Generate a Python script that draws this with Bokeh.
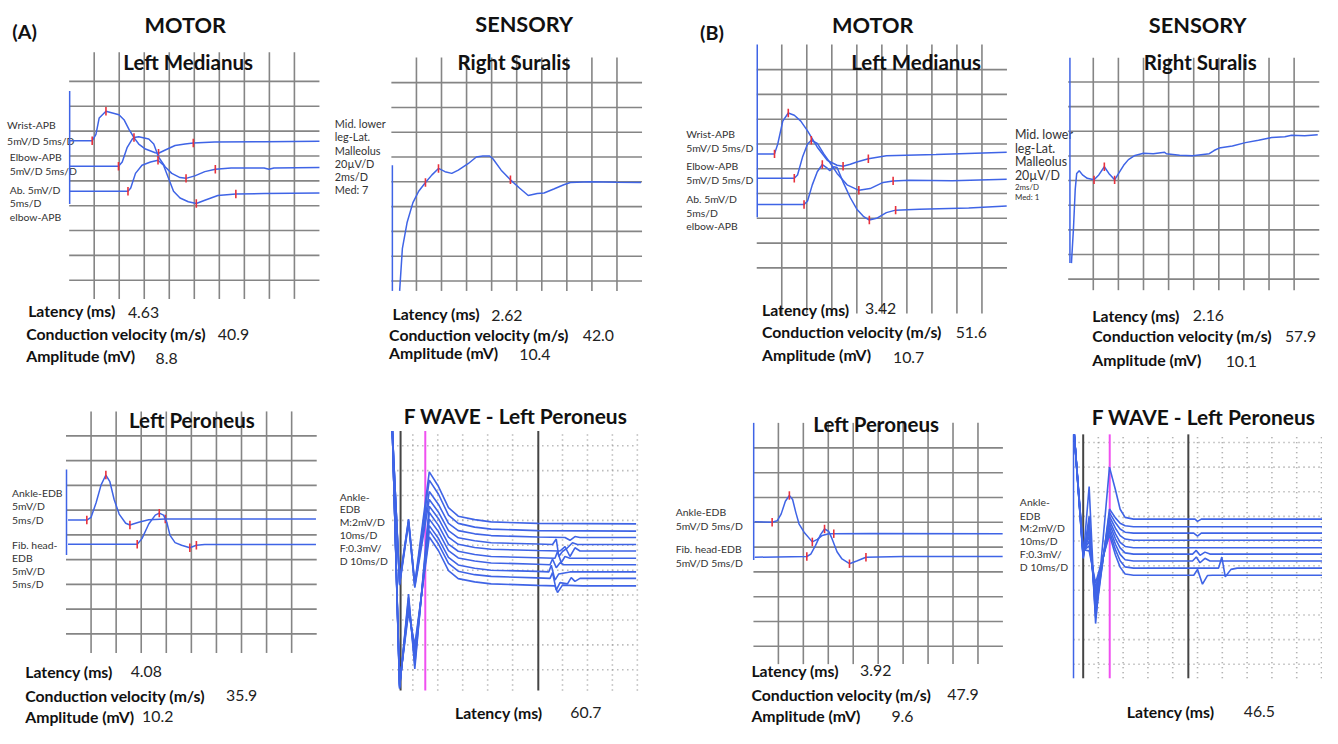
from bokeh.plotting import figure
from bokeh.models import Range1d
from bokeh.core.properties import value
from bokeh.embed import file_html
from bokeh.resources import INLINE

# ------------------------------------------------------------------
# DATA  (x in screen divisions of time, y in screen divisions of amplitude)
# ------------------------------------------------------------------
# (A) MOTOR - Left Medianus  (5 ms/D, 5 mV/D)
a_med_wrist_t = [0.02, 0.92, 1.07, 1.20, 1.47, 1.73, 1.99, 2.19, 2.39, 2.59, 2.78, 3.05, 3.44, 3.57, 3.84, 4.23, 4.63, 4.96, 5.81, 7.79, 10.0]
a_med_wrist_v = [6.61, 6.61, 6.87, 7.53, 7.80, 7.73, 7.66, 7.46, 7.07, 6.74, 6.48, 6.28, 6.13, 6.11, 6.24, 6.42, 6.48, 6.52, 6.56, 6.57, 6.59]
a_med_wrist_marks = [1, 4, 13, 17]
a_med_elbow_t = [0.02, 1.97, 2.12, 2.32, 2.52, 2.59, 2.78, 3.18, 3.38, 3.57, 3.84, 4.10, 4.43, 4.67, 5.02, 5.42, 5.84, 6.47, 7.79, 7.98, 8.18, 10.0]
a_med_elbow_v = [5.59, 5.59, 5.76, 6.35, 6.68, 6.74, 6.77, 6.68, 6.48, 5.96, 5.56, 5.30, 5.13, 5.10, 5.20, 5.37, 5.47, 5.52, 5.52, 5.47, 5.52, 5.54]
a_med_elbow_marks = [1, 5, 13, 16]
a_med_ab_t = [0.02, 2.35, 2.46, 2.65, 2.91, 3.25, 3.55, 3.77, 3.97, 4.17, 4.43, 4.76, 5.08, 5.42, 5.94, 6.66, 7.79, 10.0]
a_med_ab_v = [4.58, 4.58, 4.71, 5.30, 5.63, 5.76, 5.83, 5.63, 5.10, 4.58, 4.31, 4.16, 4.09, 4.22, 4.41, 4.47, 4.49, 4.51]
a_med_ab_marks = [1, 6, 12, 15]
a_med_stim = [4.07, 8.61]

# (A) SENSORY - Right Suralis (2 ms/D, 20 uV/D)
a_sur_t = [0.33, 0.44, 0.63, 0.86, 1.09, 1.36, 1.62, 1.88, 2.14, 2.41, 2.67, 3.06, 3.39, 3.65, 3.92, 4.05, 4.38, 4.75, 5.11, 5.46, 5.82, 6.09, 6.48, 6.88, 7.14, 7.93, 8.98, 9.96]
a_sur_v = [0.60, 2.32, 3.37, 4.16, 4.62, 4.97, 5.28, 5.54, 5.41, 5.34, 5.47, 5.73, 6.00, 6.04, 6.04, 5.93, 5.47, 5.08, 4.75, 4.45, 4.53, 4.55, 4.71, 4.88, 4.97, 5.00, 4.98, 4.97]
a_sur_marks = [5, 7, 17]
a_sur_stim = [0.60, 5.67]

# (A) MOTOR - Left Peroneus (5 ms/D, 5 mV/D)
a_per_ankle_t = [0.08, 0.83, 1.00, 1.20, 1.40, 1.59, 1.75, 1.92, 2.12, 2.38, 2.55, 2.90, 3.30, 3.96, 6.58, 9.97]
a_per_ankle_v = [5.60, 5.60, 5.71, 6.30, 7.02, 7.42, 7.15, 6.43, 5.84, 5.47, 5.40, 5.51, 5.61, 5.64, 5.64, 5.64]
a_per_ankle_marks = [1, 5, 10, 13]
a_per_fib_t = [0.08, 2.84, 3.03, 3.30, 3.56, 3.72, 3.89, 4.02, 4.15, 4.35, 4.61, 4.94, 5.20, 5.53, 9.97]
a_per_fib_v = [4.62, 4.62, 4.85, 5.44, 5.80, 5.88, 5.80, 5.51, 4.98, 4.69, 4.58, 4.48, 4.58, 4.61, 4.61]
a_per_fib_marks = [1, 5, 11, 12]
a_per_stim = [4.19, 7.64]

# (A) F WAVE - Left Peroneus (10 ms/D)
a_fw_t = [
    [0.18, 0.47, 0.83, 1.08, 1.66, 2.03, 2.43, 2.82, 3.48, 4.14, 5.99, 9.95],
    [0.18, 0.47, 0.83, 1.08, 1.66, 2.03, 2.43, 2.82, 3.48, 4.14, 5.99, 9.95],
    [0.18, 0.47, 0.83, 1.08, 1.66, 2.03, 2.43, 2.82, 3.48, 4.14, 5.99, 7.1, 7.3, 7.5, 7.7, 9.95],
    [0.18, 0.47, 0.83, 1.08, 1.66, 2.03, 2.43, 2.82, 3.48, 4.14, 5.99, 6.6, 6.75, 6.85, 7.0, 7.2, 7.4, 7.6, 9.95],
    [0.18, 0.47, 0.83, 1.08, 1.66, 2.03, 2.43, 2.82, 3.48, 4.14, 5.99, 6.9, 7.1, 7.3, 7.5, 7.7, 9.95],
    [0.18, 0.47, 0.83, 1.08, 1.66, 2.03, 2.43, 2.82, 3.48, 4.14, 5.99, 6.7, 6.8, 6.95, 7.1, 7.3, 9.95],
    [0.18, 0.47, 0.83, 1.08, 1.66, 2.03, 2.43, 2.82, 3.48, 4.14, 5.99, 6.5, 6.6, 6.75, 6.9, 7.05, 9.95],
    [0.18, 0.47, 0.83, 1.08, 1.66, 2.03, 2.43, 2.82, 3.48, 4.14, 5.99, 6.45, 6.55, 6.7, 6.85, 7.3, 9.95],
    [0.18, 0.47, 0.83, 1.08, 1.66, 2.03, 2.43, 2.82, 3.48, 4.14, 5.99, 6.5, 6.6, 6.75, 6.9, 7.2, 7.35, 7.5, 7.7, 9.95],
    [0.18, 0.47, 0.83, 1.08, 1.66, 2.03, 2.43, 2.82, 3.48, 4.14, 5.99, 6.7, 6.8, 7.0, 7.8, 9.95],
]
a_fw_v = [
    [10.59, 4.55, 7.05, 4.45, 8.95, 8.36, 7.51, 7.17, 7.03, 6.94, 6.88, 6.86],
    [10.59, 4.50, 7.00, 4.40, 8.62, 8.05, 7.21, 6.88, 6.73, 6.65, 6.59, 6.57],
    [10.59, 4.45, 6.95, 4.35, 8.16, 7.64, 6.88, 6.59, 6.46, 6.39, 6.33, 6.31, 6.20, 6.35, 6.31, 6.31],
    [10.59, 4.40, 6.90, 4.30, 7.84, 7.33, 6.59, 6.30, 6.18, 6.10, 6.05, 6.03, 6.25, 5.55, 5.75, 5.90, 6.10, 6.03, 6.03],
    [10.59, 0.24, 4.04, 1.03, 7.57, 7.07, 6.33, 6.04, 5.91, 5.84, 5.79, 5.77, 5.95, 5.55, 5.90, 5.77, 5.77],
    [10.59, 0.28, 3.90, 1.20, 7.32, 6.80, 6.05, 5.76, 5.63, 5.55, 5.50, 5.48, 5.75, 5.30, 5.55, 5.48, 5.48],
    [10.59, 0.32, 3.75, 1.40, 7.05, 6.54, 5.79, 5.49, 5.37, 5.29, 5.24, 5.22, 5.45, 5.10, 5.30, 5.22, 5.22],
    [10.59, 0.36, 3.60, 1.60, 6.79, 6.27, 5.51, 5.21, 5.08, 5.00, 4.95, 4.93, 5.20, 4.60, 4.85, 4.93, 4.93],
    [10.59, 0.40, 3.45, 1.80, 6.59, 6.05, 5.27, 4.96, 4.82, 4.75, 4.69, 4.67, 4.90, 4.20, 4.50, 4.45, 4.70, 4.55, 4.67, 4.67],
    [10.59, 0.44, 3.30, 2.00, 6.33, 5.78, 4.98, 4.66, 4.53, 4.45, 4.39, 4.37, 4.10, 4.40, 4.37, 4.37],
]
a_fw_cursor_black = [0.51, 6.03]
a_fw_cursor_pink = [1.50]

# (B) MOTOR - Left Medianus
b_med_wrist_t = [0.02, 0.71, 0.84, 1.04, 1.26, 1.50, 1.76, 2.03, 2.42, 2.82, 3.21, 3.45, 3.74, 4.00, 4.46, 5.18, 7.16, 9.99]
b_med_wrist_v = [5.60, 5.60, 6.00, 6.92, 7.25, 7.16, 6.92, 6.53, 5.87, 5.34, 5.14, 5.10, 5.18, 5.27, 5.40, 5.52, 5.58, 5.67]
b_med_wrist_marks = [1, 4, 11, 14]
b_med_elbow_t = [0.02, 1.50, 1.63, 1.83, 2.03, 2.18, 2.42, 2.68, 2.95, 3.21, 3.61, 4.08, 4.53, 5.05, 5.45, 6.10, 7.81, 9.99]
b_med_elbow_v = [4.62, 4.62, 4.75, 5.47, 6.00, 6.15, 6.02, 5.60, 5.21, 4.81, 4.35, 4.13, 4.20, 4.45, 4.51, 4.54, 4.52, 4.58]
b_med_elbow_marks = [1, 5, 11, 14]
b_med_ab_t = [0.02, 1.89, 2.03, 2.22, 2.42, 2.62, 2.79, 2.92, 3.08, 3.21, 3.47, 3.74, 4.00, 4.26, 4.50, 4.79, 5.18, 5.55, 6.50, 8.47, 9.99]
b_med_ab_v = [3.56, 3.56, 3.70, 4.35, 4.88, 5.17, 5.05, 4.92, 5.08, 5.05, 4.42, 3.83, 3.37, 3.08, 2.93, 3.00, 3.23, 3.33, 3.37, 3.42, 3.50]
b_med_ab_marks = [1, 5, 14, 17]
b_med_stim = [3.04, 10.01]

# (B) SENSORY - Right Suralis
b_sur_t = [0.13, 0.21, 0.28, 0.34, 0.44, 0.57, 0.76, 1.03, 1.22, 1.44, 1.62, 1.85, 2.01, 2.21, 2.40, 2.66, 3.00, 3.39, 3.84, 3.91, 4.44, 4.96, 5.62, 5.81, 6.01, 6.54, 7.06, 7.58, 8.11, 8.63, 8.90, 9.42, 9.94]
b_sur_v = [1.65, 3.04, 4.63, 5.29, 5.40, 5.23, 5.09, 5.03, 5.23, 5.56, 5.29, 5.03, 5.29, 5.62, 5.85, 6.02, 6.11, 6.09, 6.15, 6.09, 6.03, 6.01, 6.09, 6.22, 6.32, 6.40, 6.54, 6.64, 6.75, 6.78, 6.84, 6.82, 6.86]
b_sur_marks = [7, 9, 11]
b_sur_stim = [1.65, 9.99]

# (B) MOTOR - Left Peroneus
b_per_ankle_t = [0.05, 0.75, 0.95, 1.11, 1.28, 1.44, 1.57, 1.70, 1.83, 2.03, 2.36, 2.56, 2.76, 3.02, 3.22, 4.67, 9.99]
b_per_ankle_v = [6.02, 6.00, 6.06, 6.33, 6.85, 7.08, 6.92, 6.39, 5.93, 5.60, 5.21, 5.31, 5.47, 5.54, 5.54, 5.55, 5.54]
b_per_ankle_marks = [1, 5, 10, 14]
b_per_fib_t = [0.05, 2.14, 2.30, 2.49, 2.69, 2.85, 3.02, 3.15, 3.35, 3.55, 3.85, 4.14, 4.51, 5.99, 9.99]
b_per_fib_v = [4.59, 4.62, 4.72, 5.07, 5.50, 5.73, 5.63, 5.34, 4.81, 4.52, 4.33, 4.44, 4.59, 4.62, 4.62]
b_per_fib_marks = [1, 5, 10, 12]
b_per_stim = [4.48, 10.01]

# (B) F WAVE - Left Peroneus
b_fw_t = [
    [0.03, 0.39, 0.63, 0.89, 1.45, 1.69, 1.88, 2.08, 2.42, 4.9, 5.0, 5.15, 10.04],
    [0.03, 0.39, 0.63, 0.89, 1.45, 1.69, 1.88, 2.08, 2.42, 10.04],
    [0.03, 0.39, 0.63, 0.89, 1.45, 1.69, 1.88, 2.08, 2.42, 4.85, 5.0, 5.15, 10.04],
    [0.03, 0.39, 0.63, 0.89, 1.45, 1.69, 1.88, 2.08, 2.42, 10.04],
    [0.03, 0.39, 0.63, 0.89, 1.45, 1.69, 1.88, 2.08, 2.42, 10.04],
    [0.03, 0.39, 0.63, 0.89, 1.45, 1.69, 1.88, 2.08, 2.42, 4.8, 4.95, 5.1, 5.3, 5.5, 10.04],
    [0.03, 0.39, 0.63, 0.89, 1.45, 1.69, 1.88, 2.08, 2.42, 4.8, 4.95, 5.1, 5.3, 5.5, 10.04],
    [0.03, 0.39, 0.63, 0.89, 1.45, 1.69, 1.88, 2.08, 2.42, 5.85, 5.98, 6.12, 6.35, 6.6, 10.04],
    [0.03, 0.39, 0.63, 0.89, 1.45, 1.69, 1.88, 2.08, 2.42, 4.85, 5.0, 5.2, 5.4, 5.6, 10.04],
]
b_fw_v = [
    [10.33, 5.30, 8.21, 2.65, 9.00, 8.08, 7.29, 6.96, 6.89, 6.89, 6.80, 6.89, 6.89],
    [10.33, 5.30, 7.00, 2.90, 7.30, 6.94, 6.72, 6.62, 6.58, 6.58],
    [10.33, 5.35, 6.80, 3.10, 7.15, 6.74, 6.49, 6.36, 6.32, 6.32, 6.20, 6.32, 6.32],
    [10.33, 5.40, 6.60, 3.30, 7.00, 6.52, 6.22, 6.08, 6.03, 6.03],
    [10.33, 5.45, 6.40, 3.50, 6.85, 6.29, 5.95, 5.78, 5.73, 5.73],
    [10.33, 5.50, 6.20, 3.70, 6.70, 6.09, 5.72, 5.52, 5.47, 5.47, 5.62, 5.42, 5.55, 5.47, 5.47],
    [10.33, 5.55, 6.00, 3.90, 6.55, 5.87, 5.46, 5.24, 5.19, 5.19, 5.35, 5.12, 5.30, 5.19, 5.19],
    [10.33, 5.60, 5.80, 4.10, 6.40, 5.65, 5.20, 4.95, 4.90, 4.90, 5.35, 4.55, 4.85, 4.90, 4.90],
    [10.33, 5.65, 5.60, 4.30, 6.25, 5.43, 4.94, 4.66, 4.61, 4.61, 4.85, 4.25, 4.60, 4.61, 4.61],
]
b_fw_cursor_black = [0.39, 4.63]
b_fw_cursor_pink = [1.46]
b_fw_stim = [0.43, 10.33]

# Measurements
meas_labels = ["Latency (ms)", "Conduction velocity (m/s)", "Amplitude (mV)"]
a_med_meas = ["4.63", "40.9", "8.8"]
a_sur_meas = ["2.62", "42.0", "10.4"]
a_per_meas = ["4.08", "35.9", "10.2"]
a_fw_latency = "60.7"
b_med_meas = ["3.42", "51.6", "10.7"]
b_sur_meas = ["2.16", "57.9", "10.1"]
b_per_meas = ["3.92", "47.9", "9.6"]
b_fw_latency = "46.5"

med_labels = ["Wrist-APB", "5mV/D 5ms/D", "Elbow-APB", "5mV/D 5ms/D", "Ab. 5mV/D", "5ms/D", "elbow-APB"]
a_sur_labels = ["Mid. lower", "leg-Lat.", "Malleolus", "20\u00b5V/D", "2ms/D", "Med: 7"]
b_sur_labels = ["Mid. lower", "leg-Lat.", "Malleolus", "20\u00b5V/D"]
b_sur_small = ["2ms/D", "Med: 1"]
a_per_labels = ["Ankle-EDB", "5mV/D", "5ms/D", "Fib. head-", "EDB", "5mV/D", "5ms/D"]
b_per_labels = ["Ankle-EDB", "5mV/D 5ms/D", "Fib. head-EDB", "5mV/D 5ms/D"]
fw_labels = ["Ankle-", "EDB", "M:2mV/D", "10ms/D", "F:0.3mV/", "D 10ms/D"]

# ------------------------------------------------------------------
# LAYOUT (reference pixel frame 1338 x 744)
# ------------------------------------------------------------------
W, H = 1338, 744
PW, PH = 1322, 728
S = PW / W
BLUE = "#3f64e6"
RED = "#e8313c"
GRID = "#858585"
DOT = "#9a9a9a"
FONT = "Lato"

# panel: (left px, px per division, bottom px (y=0), px per division)
PANELS = {
    "a_med": (69.5, 25.33, 311.3, 25.4),
    "a_sur": (395.6, 25.37, 312.0, 25.34),
    "a_per": (66.3, 25.375, 672.6, 25.29),
    "a_fw": (392.05, 25.25, 709.4, 25.44),
    "b_med": (765.4, 25.325, 298.6, 25.33),
    "b_sur": (1080.6, 25.41, 309.9, 25.175),
    "b_per": (762.05, 25.25, 685.3, 25.34),
    "b_fw": (1086.0, 25.1, 703.5, 25.18),
}

p = figure(width=PW, height=PH, x_range=Range1d(0, W), y_range=Range1d(H, 0),
           output_backend="svg", toolbar_location=None, min_border=0,
           x_axis_type=None, y_axis_type=None)
p.xgrid.visible = False
p.ygrid.visible = False
p.outline_line_color = None
p.background_fill_color = "white"
p.border_fill_color = "white"

ex, ey = {}, {}
for name, (x0, dx, y0, dy) in PANELS.items():
    ex[name] = Range1d(-x0 / dx, (W - x0) / dx)
    ey[name] = Range1d((y0 - H) / dy, y0 / dy)
p.extra_x_ranges = ex
p.extra_y_ranges = ey


def solid_grid(name, vlo, vhi):
    xs = [[k, k] for k in range(1, 10)]
    ys = [[vlo, vhi] for _ in range(1, 10)]
    p.multi_line(xs, ys, line_color=GRID, line_width=1.6, x_range_name=name, y_range_name=name)
    hx = [[0, 10] for _ in range(1, 10)]
    hy = [[k, k] for k in range(1, 10)]
    p.multi_line(hx, hy, line_color=GRID, line_width=1.6, x_range_name=name, y_range_name=name)


def dotted_grid(name, xlo, xhi, vlo, vhi, skip=()):
    cols = [k for k in range(1, 11) if k not in skip]
    p.multi_line([[k, k] for k in cols], [[vlo, vhi] for _ in cols], line_color=DOT,
                 line_width=1.6, line_dash="1 4", x_range_name=name, y_range_name=name)
    p.multi_line([[xlo, xhi] for _ in range(1, 11)], [[k, k] for k in range(1, 11)], line_color=DOT,
                 line_width=1.6, line_dash="1 4", x_range_name=name, y_range_name=name)


def texts(items, size, bold=False, align="left", color="#1a1a1a"):
    p.text(x=[i[1] for i in items], y=[i[2] for i in items], text=[i[0] for i in items],
           text_font=value(FONT), text_font_size=f"{size * S:.1f}px",
           text_font_style="bold" if bold else "normal", text_align=align,
           text_baseline="middle", text_color=color)


def trace(name, xs, ys, width=1.5, color=BLUE):
    p.line(xs, ys, line_color=color, line_width=width, x_range_name=name, y_range_name=name)


def marks(name, xs, ys, idx):
    mx = [xs[i] for i in idx]
    my = [ys[i] for i in idx]
    p.segment(x0=mx, y0=[v - 0.17 for v in my], x1=mx, y1=[v + 0.17 for v in my],
              line_color=RED, line_width=1.6, x_range_name=name, y_range_name=name)


def vline(name, x, lo, hi, color, width):
    p.segment(x0=[x], y0=[lo], x1=[x], y1=[hi], line_color=color, line_width=width,
              x_range_name=name, y_range_name=name)


# grids
solid_grid("a_med", 0.25, 10.17)
solid_grid("a_sur", 0.60, 10.01)
solid_grid("a_per", 0.23, 9.99)
solid_grid("b_med", -0.84, 10.01)
solid_grid("b_sur", 0.55, 9.99)
solid_grid("b_per", 0.28, 10.01)
dotted_grid("a_fw", 0.18, 9.95, 0.17, 10.59, skip=(6,))
dotted_grid("b_fw", 0.0, 10.04, 0.43, 10.33)

# headings
texts([("(A)", 12, 31), ("(B)", 708, 32)], 20, bold=True, color="#111")
texts([("MOTOR", 187, 25), ("SENSORY", 530, 24), ("MOTOR", 882.7, 25), ("SENSORY", 1211.7, 25)],
      22, bold=True, align="center", color="#111")
texts([("Left Medianus", 190, 63), ("Right Suralis", 519.7, 63.3), ("Left Peroneus", 193.7, 428.3),
       ("Left Medianus", 926.7, 62.7), ("Right Suralis", 1214.2, 63.3), ("Left Peroneus", 886.3, 433.3)],
      20.7, bold=True, align="center", color="#111")
texts([("F WAVE - Left Peroneus", 521.3, 424), ("F WAVE - Left Peroneus", 1217.7, 425)],
      21.2, bold=True, align="center", color="#111")


# measurement blocks
def meas_block(lx, ys, vx, vys, vals):
    texts([(meas_labels[i], lx[i], ys[i]) for i in range(3)], 16, bold=True, color="#111")
    texts([(vals[i], vx[i], vys[i]) for i in range(3)], 16, color="#222")


meas_block([28, 26, 26], [317, 340, 363], [129, 220, 157], [319, 341, 366], a_med_meas)
meas_block([396.7, 393.3, 393.3], [320, 341, 359.5], [496.7, 589.3, 525], [321.5, 342.5, 362], a_sur_meas)
meas_block([25, 25, 25], [686, 710, 732], [131.7, 228.3, 143.3], [686, 710, 732], a_per_meas)
meas_block([770.7, 770.7, 770.7], [316, 338.3, 361.7], [875, 966.7, 903.3], [315, 339.5, 364.5], b_med_meas)
meas_block([1105, 1105, 1105], [321.7, 342.3, 367.3], [1206.7, 1300, 1240], [321.7, 343, 368.5], b_sur_meas)
meas_block([760, 760, 760], [685, 709, 731], [870, 958.3, 901.7], [685, 709, 732], b_per_meas)
texts([(meas_labels[0], 460, 728), (meas_labels[0], 1140, 727)], 16, bold=True, color="#111")
texts([(a_fw_latency, 576.7, 728), (b_fw_latency, 1258.3, 727)], 16, color="#222")

# side labels
LBL = "#333333"
texts([(med_labels[0], 6.7, 127.7), (med_labels[1], 6.7, 143.3), (med_labels[2], 9.3, 160),
       (med_labels[3], 9.3, 174), (med_labels[4], 9.3, 193.3), (med_labels[5], 9.3, 207),
       (med_labels[6], 9.3, 221)], 10.5, color=LBL)
texts([(med_labels[i], 694, yy) for i, yy in enumerate([136.7, 150.7, 169.3, 183.3, 202.7, 216.7, 230])],
      10.5, color=LBL)
texts([(a_sur_labels[i], 338.3, yy) for i, yy in enumerate([126, 139.3, 153.3, 166.7, 180, 193.3])],
      11, color=LBL)
texts([(b_sur_labels[i], 1026.7, yy) for i, yy in enumerate([137.3, 151.5, 164.5, 178.5])], 12.5, color=LBL)
texts([(b_sur_small[i], 1026.7, yy) for i, yy in enumerate([190.5, 200.5])], 8, color=LBL)
texts([(a_per_labels[i], 11.7, yy) for i, yy in enumerate([503.3, 516.7, 531, 556.7, 569.3, 582.7, 596])],
      10.5, color=LBL)
texts([(b_per_labels[i], 683.3, yy) for i, yy in enumerate([522.7, 536.7, 561, 575])], 10.5, color=LBL)
texts([(fw_labels[i], 343.3, yy) for i, yy in enumerate([507.3, 520, 533.3, 546.7, 559.3, 573.3])],
      10.5, color=LBL)
texts([(fw_labels[i], 1031.7, yy) for i, yy in enumerate([512.7, 526.7, 539.3, 552.7, 566, 579.3])],
      10.5, color=LBL)

# cursors for F waves
for c in a_fw_cursor_black:
    vline("a_fw", c, 0.17, 10.59, "#454545", 2)
for c in a_fw_cursor_pink:
    vline("a_fw", c, 0.17, 10.59, "#f050f0", 2)
for c in b_fw_cursor_black:
    vline("b_fw", c, 0.43, 10.33, "#454545", 2)
for c in b_fw_cursor_pink:
    vline("b_fw", c, 0.43, 10.33, "#f050f0", 2)
vline("b_fw", 0.0, b_fw_stim[0], b_fw_stim[1], BLUE, 1.5)

# stimulus lines
vline("a_med", 0.02, a_med_stim[0], a_med_stim[1], BLUE, 1.5)
vline("a_sur", 0.04, a_sur_stim[0], a_sur_stim[1], BLUE, 1.5)
vline("a_per", 0.02, a_per_stim[0], a_per_stim[1], BLUE, 1.5)
vline("b_med", 0.02, b_med_stim[0], b_med_stim[1], BLUE, 1.5)
vline("b_sur", 0.07, b_sur_stim[0], b_sur_stim[1], BLUE, 1.5)
vline("b_per", 0.01, b_per_stim[0], b_per_stim[1], BLUE, 1.5)

# traces
for name, xs, ys, mk in [
    ("a_med", a_med_wrist_t, a_med_wrist_v, a_med_wrist_marks),
    ("a_med", a_med_elbow_t, a_med_elbow_v, a_med_elbow_marks),
    ("a_med", a_med_ab_t, a_med_ab_v, a_med_ab_marks),
    ("a_sur", a_sur_t, a_sur_v, a_sur_marks),
    ("a_per", a_per_ankle_t, a_per_ankle_v, a_per_ankle_marks),
    ("a_per", a_per_fib_t, a_per_fib_v, a_per_fib_marks),
    ("b_med", b_med_wrist_t, b_med_wrist_v, b_med_wrist_marks),
    ("b_med", b_med_elbow_t, b_med_elbow_v, b_med_elbow_marks),
    ("b_med", b_med_ab_t, b_med_ab_v, b_med_ab_marks),
    ("b_sur", b_sur_t, b_sur_v, b_sur_marks),
    ("b_per", b_per_ankle_t, b_per_ankle_v, b_per_ankle_marks),
    ("b_per", b_per_fib_t, b_per_fib_v, b_per_fib_marks),
]:
    trace(name, xs, ys)
    marks(name, xs, ys, mk)

for xs, ys in zip(a_fw_t, a_fw_v):
    trace("a_fw", xs, ys, width=1.6)
for xs, ys in zip(b_fw_t, b_fw_v):
    trace("b_fw", xs, ys, width=1.6)

open("out.html", "w").write(file_html(p, INLINE))
